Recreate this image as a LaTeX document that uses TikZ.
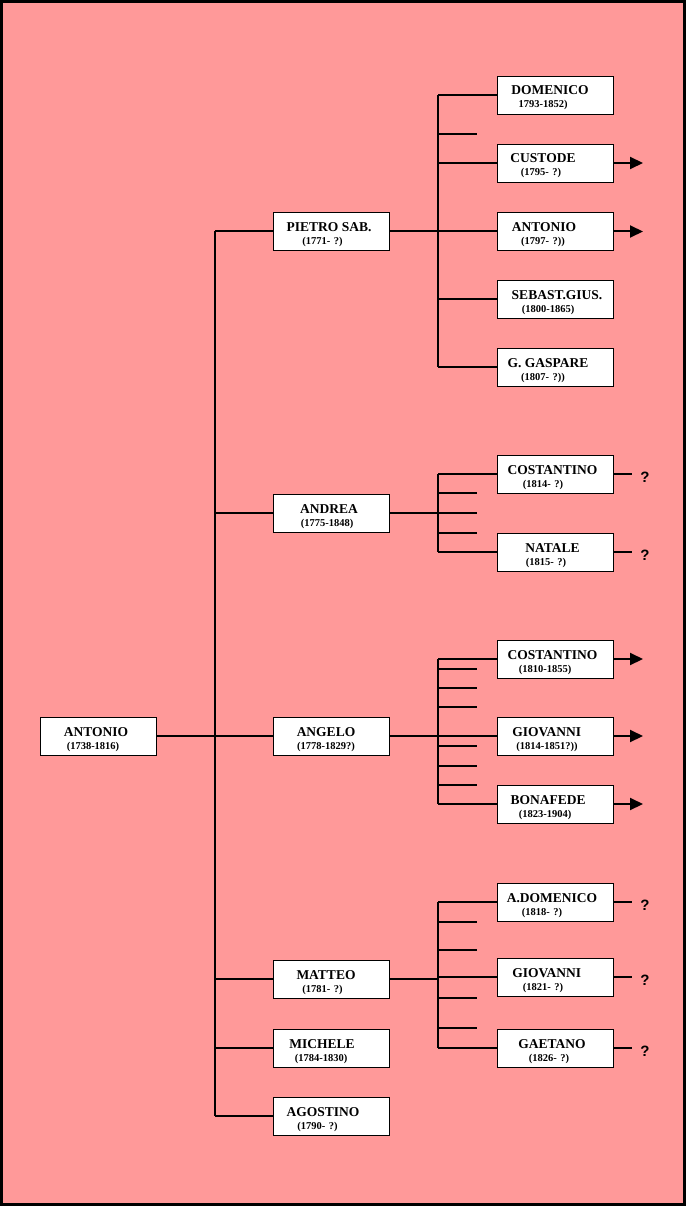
\documentclass[tikz,border=0pt]{standalone}
\usepackage{fontspec}
\setmainfont{Liberation Serif}
\newfontfamily\qfont{Liberation Sans}
\usetikzlibrary{arrows.meta}
\definecolor{bg}{HTML}{FF9999}
\newcommand\pers[7]{%
  \node[pbox] (#1) at (#2,#3) {};
  \node[nm] (#1n) at (#5,#3) {#4};
  \node[dt] (#1d) at (#7,{#3+13}) {#6};}
\begin{document}
\begin{tikzpicture}[x=1pt,y=-1pt,
  pbox/.style={draw=black,line width=0.9pt,fill=white,minimum width=116pt,minimum height=38pt,inner sep=0pt},
  nm/.style={anchor=base,inner sep=0pt,font=\fontsize{13.5}{14}\selectfont\bfseries},
  dt/.style={anchor=base,inner sep=0pt,font=\fontsize{10.5}{11}\selectfont\bfseries},
  conn/.style={line width=2pt,draw=black},
  arr/.style={conn,-{Triangle[length=13pt,width=12pt]}},
  qm/.style={inner sep=0pt,font=\qfont\fontsize{15}{16}\selectfont\bfseries}]
\useasboundingbox (0,0) rectangle (686,1206);
\draw[fill=bg,line width=3.4pt] (1.7,1.7) rectangle (684.3,1204.3);

% ---- persons ----
\pers{root}{98}{736}{ANTONIO}{96}{(1738-1816)}{93}
\pers{pietro}{331}{231.5}{PIETRO SAB.}{329}{(1771-\,\,?)}{322.5}
\pers{andrea}{331}{513}{ANDREA}{329}{(1775-1848)}{327}
\pers{angelo}{331}{736}{ANGELO}{326}{(1778-1829?)}{326}
\pers{matteo}{331}{979}{MATTEO}{326}{(1781-\,\,?)}{322.5}
\pers{michele}{331}{1048}{MICHELE}{322}{(1784-1830)}{321}
\pers{agostino}{331}{1116}{AGOSTINO}{323}{(1790-\,\,?)}{317.5}

\pers{domenico}{555}{95}{DOMENICO}{550}{1793-1852)}{543}
\pers{custode}{555}{163}{CUSTODE}{543}{(1795-\,\,?)}{541}
\pers{antonioB}{555}{231.5}{ANTONIO}{544}{(1797-\,\,?))}{543}
\pers{sebast}{555}{299}{SEBAST.GIUS.}{557}{(1800-1865)}{548}
\pers{gaspare}{555}{367}{G. GASPARE}{548}{(1807-\,\,?))}{543}

\pers{costA}{555}{474}{COSTANTINO}{552.5}{(1814-\,\,?)}{543}
\pers{natale}{555}{552}{NATALE}{552.5}{(1815-\,\,?)}{546}

\pers{costB}{555}{659}{COSTANTINO}{552.5}{(1810-1855)}{545}
\pers{giovA}{555}{736}{GIOVANNI}{546.7}{(1814-1851?))}{547}
\pers{bonafede}{555}{804}{BONAFEDE}{548}{(1823-1904)}{545}

\pers{adomenico}{555}{902}{A.DOMENICO}{552}{(1818-\,\,?)}{542}
\pers{giovB}{555}{977}{GIOVANNI}{546.7}{(1821-\,\,?)}{543}
\pers{gaetano}{555}{1048}{GAETANO}{552}{(1826-\,\,?)}{549}

% ---- helper coordinates ----
\coordinate (tr) at (215,736);
\coordinate (sx) at (438,0);
\coordinate (stubx) at (477,0);
\coordinate (ax) at (643,0);
\coordinate (qx) at (632,0);

% ---- main trunk ----
\draw[conn] (root.east) -- (angelo.west);
\draw[conn] (tr |- pietro.west) -- (tr |- agostino.west);
\foreach \p in {pietro,andrea,matteo,michele,agostino}
  \draw[conn] (tr |- \p.west) -- (\p.west);

% ---- Pietro's children ----
\draw[conn] (sx |- domenico.west) -- (sx |- gaspare.west);
\draw[conn] (pietro.east) -- (antonioB.west);
\foreach \c in {domenico,custode,sebast,gaspare}
  \draw[conn] (sx |- \c.west) -- (\c.west);
\coordinate (p1) at (477,134);
\draw[conn] (sx |- p1) -- (p1);
\draw[arr] (custode.east) -- (custode.east -| ax);
\draw[arr] (antonioB.east) -- (antonioB.east -| ax);

% ---- Andrea's children ----
\draw[conn] (sx |- costA.west) -- (sx |- natale.west);
\coordinate (a2) at (477,513);
\draw[conn] (andrea.east) -- (a2);
\foreach \yy [count=\i] in {493,533} {
  \coordinate (a\i s) at (477,\yy);
  \draw[conn] (sx |- a\i s) -- (a\i s);}
\draw[conn] (sx |- costA.west) -- (costA.west);
\draw[conn] (sx |- natale.west) -- (natale.west);
\node[qm] (q1) at (645,477) {?};
\node[qm] (q2) at (645,555) {?};
\draw[conn] (costA.east) -- (costA.east -| qx);
\draw[conn] (natale.east) -- (natale.east -| qx);

% ---- Angelo's children ----
\draw[conn] (sx |- costB.west) -- (sx |- bonafede.west);
\draw[conn] (angelo.east) -- (giovA.west);
\draw[conn] (sx |- costB.west) -- (costB.west);
\draw[conn] (sx |- bonafede.west) -- (bonafede.west);
\foreach \yy [count=\i] in {669,688,707,746,766,785} {
  \coordinate (g\i s) at (477,\yy);
  \draw[conn] (sx |- g\i s) -- (g\i s);}
\draw[arr] (costB.east) -- (costB.east -| ax);
\draw[arr] (giovA.east) -- (giovA.east -| ax);
\draw[arr] (bonafede.east) -- (bonafede.east -| ax);

% ---- Matteo's children ----
\draw[conn] (sx |- adomenico.west) -- (sx |- gaetano.west);
\draw[conn] (matteo.east) -- (matteo.east -| sx);
\foreach \c in {adomenico,giovB,gaetano}
  \draw[conn] (sx |- \c.west) -- (\c.west);
\foreach \yy [count=\i] in {922,950,998,1028} {
  \coordinate (m\i s) at (477,\yy);
  \draw[conn] (sx |- m\i s) -- (m\i s);}
\draw[conn] (adomenico.east) -- (adomenico.east -| qx);
\draw[conn] (giovB.east) -- (giovB.east -| qx);
\draw[conn] (gaetano.east) -- (gaetano.east -| qx);
\node[qm] (q3) at (645,905) {?};
\node[qm] (q4) at (645,980) {?};
\node[qm] (q5) at (645,1051) {?};
\end{tikzpicture}
\end{document}
